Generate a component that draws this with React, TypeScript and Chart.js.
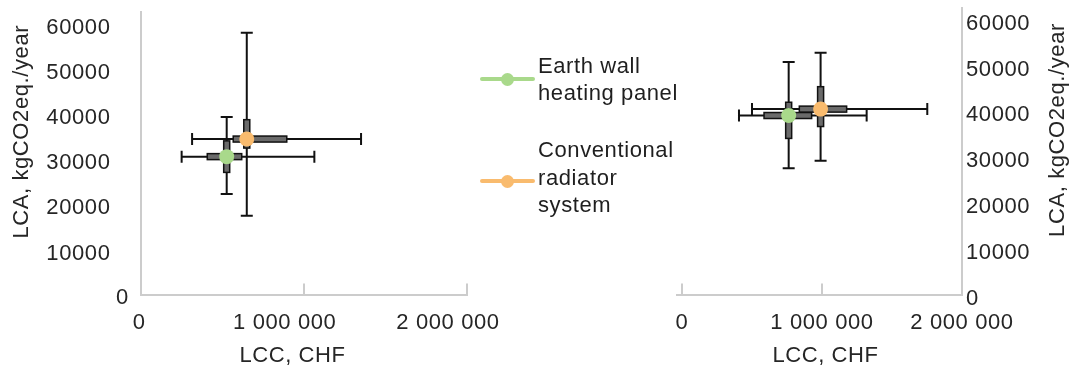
import React, { useEffect, useRef } from 'react';
import { Chart, registerables } from 'chart.js';

Chart.register(...registerables);

// ---------- data ----------
const seriesNames = ['Earth wall heating panel', 'Conventional radiator system'];
const seriesColors = ['#a9d98b', '#f9bb6e'];

const xTickValues = [0, 1000000, 2000000];
const yTickValues = [0, 10000, 20000, 30000, 40000, 50000, 60000];
const yAxisMax = 62700;

const xAxisTitle = 'LCC, CHF';
const yAxisTitle = 'LCA, kgCO2eq./year';

// left panel (series order: Earth wall, Conventional)
const leftLcc = [528000, 651000];
const leftLca = [30600, 34500];
const leftLccMin = [252000, 316000];
const leftLccMax = [1065000, 1351000];
const leftLccQ1 = [409000, 568000];
const leftLccQ3 = [620000, 896000];
const leftLcaMin = [22300, 17500];
const leftLcaMax = [39400, 58100];
const leftLcaQ1 = [27100, 32500];
const leftLcaQ3 = [34100, 38800];

// right panel
const rightLcc = [762000, 990000];
const rightLca = [39100, 40500];
const rightLccMin = [407000, 500000];
const rightLccMax = [1319000, 1752000];
const rightLccQ1 = [586000, 838000];
const rightLccQ3 = [926000, 1176000];
const rightLcaMin = [27600, 29200];
const rightLcaMax = [50800, 52800];
const rightLcaQ1 = [34100, 36700];
const rightLcaQ3 = [42000, 45400];

// ---------- styling ----------
const FONT = "'Liberation Sans', Arial, Helvetica, sans-serif";
const TEXT = '#262626';
const AXIS = '#cccccc';
const H = 372;
const LEFT_W = 520;
const RIGHT_W = 451;
const RIGHT_X = 620;

const fmt = (v: number) => String(Math.round(v)).replace(/\B(?=(\d{3})+(?!\d))/g, ' ');

const errorBarsPlugin = {
  id: 'errorBars',
  beforeDatasetsDraw(chart: any) {
    const { ctx } = chart;
    const xs = chart.scales.x;
    const ys = chart.scales.y;
    chart.data.datasets.forEach((ds: any) => {
      const e = ds.errorBars;
      if (!e) return;
      const pt = ds.data[0];
      const px = xs.getPixelForValue(pt.x);
      const py = ys.getPixelForValue(pt.y);
      const x0 = xs.getPixelForValue(e.xMin);
      const x1 = xs.getPixelForValue(e.xMax);
      const y0 = ys.getPixelForValue(e.yMin);
      const y1 = ys.getPixelForValue(e.yMax);
      const cap = 6;
      ctx.save();
      ctx.strokeStyle = '#111111';
      ctx.lineWidth = 2;
      ctx.beginPath();
      ctx.moveTo(x0, py); ctx.lineTo(x1, py);
      ctx.moveTo(x0, py - cap); ctx.lineTo(x0, py + cap);
      ctx.moveTo(x1, py - cap); ctx.lineTo(x1, py + cap);
      ctx.moveTo(px, y0); ctx.lineTo(px, y1);
      ctx.moveTo(px - cap, y0); ctx.lineTo(px + cap, y0);
      ctx.moveTo(px - cap, y1); ctx.lineTo(px + cap, y1);
      ctx.stroke();
      const bx0 = xs.getPixelForValue(e.xQ1);
      const bx1 = xs.getPixelForValue(e.xQ3);
      const by0 = ys.getPixelForValue(e.yQ3);
      const by1 = ys.getPixelForValue(e.yQ1);
      const h = 3;
      ctx.fillStyle = '#6a6a6a';
      ctx.lineWidth = 1.5;
      ctx.fillRect(bx0, py - h, bx1 - bx0, 2 * h);
      ctx.strokeRect(bx0, py - h, bx1 - bx0, 2 * h);
      ctx.fillRect(px - h, by0, 2 * h, by1 - by0);
      ctx.strokeRect(px - h, by0, 2 * h, by1 - by0);
      ctx.restore();
    });
  },
};

const freeTextPlugin = {
  id: 'freeText',
  beforeDraw(chart: any) {
    (chart.ctx as any).letterSpacing = '0.6px';
  },
  afterDraw(chart: any, _args: any, opts: any) {
    const ctx = chart.ctx;
    (opts.items || []).forEach((it: any) => {
      ctx.save();
      ctx.font = `22px ${FONT}`;
      ctx.fillStyle = TEXT;
      ctx.textAlign = 'center';
      ctx.textBaseline = 'middle';
      ctx.translate(it.x, it.y);
      if (it.rotate) ctx.rotate(-Math.PI / 2);
      ctx.fillText(it.text, 0, 0);
      ctx.restore();
    });
  },
};

function buildDatasets(
  lcc: number[], lca: number[],
  lccMin: number[], lccMax: number[], lccQ1: number[], lccQ3: number[],
  lcaMin: number[], lcaMax: number[], lcaQ1: number[], lcaQ3: number[]
) {
  return seriesNames.map((name, i) => ({
    label: name,
    data: [{ x: lcc[i], y: lca[i] }],
    backgroundColor: seriesColors[i],
    borderColor: seriesColors[i],
    borderWidth: 0,
    pointRadius: 7.5,
    pointHoverRadius: 7.5,
    errorBars: {
      xMin: lccMin[i], xMax: lccMax[i], xQ1: lccQ1[i], xQ3: lccQ3[i],
      yMin: lcaMin[i], yMax: lcaMax[i], yQ1: lcaQ1[i], yQ3: lcaQ3[i],
    },
  }));
}

const tickFont = { family: FONT, size: 22 };

function makeConfig(side: 'left' | 'right'): any {
  const isLeft = side === 'left';
  const datasets = isLeft
    ? buildDatasets(leftLcc, leftLca, leftLccMin, leftLccMax, leftLccQ1, leftLccQ3, leftLcaMin, leftLcaMax, leftLcaQ1, leftLcaQ3)
    : buildDatasets(rightLcc, rightLca, rightLccMin, rightLccMax, rightLccQ1, rightLccQ3, rightLcaMin, rightLcaMax, rightLcaQ1, rightLcaQ3);
  const textItems = isLeft
    ? [
        { text: yAxisTitle, x: 21.5, y: 131.7, rotate: true },
        { text: xAxisTitle, x: 292.5, y: 356 },
        { text: '0', x: 122.5, y: 298.3 },
        { text: '0', x: 139.2, y: 322.5 },
      ]
    : [
        { text: yAxisTitle, x: 437.8, y: 130, rotate: true },
        { text: xAxisTitle, x: 205.5, y: 356 },
      ];
  return {
    type: 'scatter',
    data: { datasets },
    plugins: [errorBarsPlugin, freeTextPlugin],
    options: {
      responsive: false,
      maintainAspectRatio: false,
      animation: false,
      events: [],
      layout: {
        padding: isLeft
          ? { top: 12, right: LEFT_W - 467, bottom: 0, left: 0 }
          : { top: 4, right: 0, bottom: 0, left: 57 },
      },
      plugins: {
        legend: { display: false },
        tooltip: { enabled: false },
        freeText: { items: textItems },
      },
      scales: {
        x: {
          type: 'linear',
          position: 'bottom',
          min: isLeft ? 0 : -35700,
          max: 2000000,
          afterBuildTicks: (s: any) => { s.ticks = xTickValues.map((v) => ({ value: v })); },
          afterFit: (s: any) => { s.height = H - 294.5; s.paddingLeft = 0; s.paddingRight = 0; },
          border: { display: true, color: AXIS, width: 2 },
          grid: { display: true, drawOnChartArea: false, drawTicks: true, tickLength: -11, color: AXIS, lineWidth: 2 },
          ticks: {
            color: TEXT,
            font: tickFont,
            padding: 26,
            labelOffset: isLeft ? -19 : 0,
            autoSkip: false,
            maxRotation: 0,
            minRotation: 0,
            callback: (v: any) => (isLeft && v === 0 ? '' : fmt(v)),
          },
        },
        y: {
          type: 'linear',
          position: isLeft ? 'left' : 'right',
          min: 0,
          max: yAxisMax,
          afterBuildTicks: (s: any) => { s.ticks = yTickValues.map((v) => ({ value: v })); },
          afterFit: (s: any) => {
            s.width = isLeft ? 140.5 : RIGHT_W - 342;
            s.paddingTop = 0;
            s.paddingBottom = 0;
          },
          border: { display: true, color: AXIS, width: 2 },
          grid: { display: false, drawTicks: false },
          ticks: {
            color: TEXT,
            font: tickFont,
            padding: isLeft ? 30 : 4,
            labelOffset: 4,
            autoSkip: false,
            callback: (v: any) => (isLeft && v === 0 ? '' : String(v)),
          },
        },
      },
    },
  };
}

const legendText: React.CSSProperties = {
  position: 'absolute',
  left: 538,
  fontFamily: FONT,
  fontSize: 22,
  letterSpacing: '0.6px',
  color: '#1f1f1f',
  whiteSpace: 'nowrap',
};

function LegendMarker({ color, y }: { color: string; y: number }) {
  return (
    <>
      <div style={{ position: 'absolute', left: 480, top: y - 2.25, width: 55, height: 4.5, borderRadius: 2.25, background: color }} />
      <div style={{ position: 'absolute', left: 501.2, top: y - 6.5, width: 13, height: 13, borderRadius: '50%', background: color }} />
    </>
  );
}

export default function App() {
  const leftRef = useRef<HTMLCanvasElement | null>(null);
  const rightRef = useRef<HTMLCanvasElement | null>(null);

  useEffect(() => {
    const charts: Chart[] = [];
    if (leftRef.current) charts.push(new Chart(leftRef.current, makeConfig('left')));
    if (rightRef.current) charts.push(new Chart(rightRef.current, makeConfig('right')));
    return () => charts.forEach((c) => c.destroy());
  }, []);

  return (
    <div style={{ position: 'absolute', left: 0, top: 0, width: 1071, height: H, background: '#ffffff', overflow: 'hidden' }}>
      <canvas ref={leftRef} width={LEFT_W} height={H} style={{ position: 'absolute', left: 0, top: 0, width: LEFT_W, height: H }} />
      <canvas ref={rightRef} width={RIGHT_W} height={H} style={{ position: 'absolute', left: RIGHT_X, top: 0, width: RIGHT_W, height: H }} />
      <LegendMarker color={seriesColors[0]} y={79} />
      <div style={{ ...legendText, top: 53.4, lineHeight: '26.6px' }}>
        <div>Earth wall</div>
        <div>heating panel</div>
      </div>
      <LegendMarker color={seriesColors[1]} y={181} />
      <div style={{ ...legendText, top: 136.3, lineHeight: '27.4px' }}>
        <div>Conventional</div>
        <div>radiator</div>
        <div>system</div>
      </div>
    </div>
  );
}
